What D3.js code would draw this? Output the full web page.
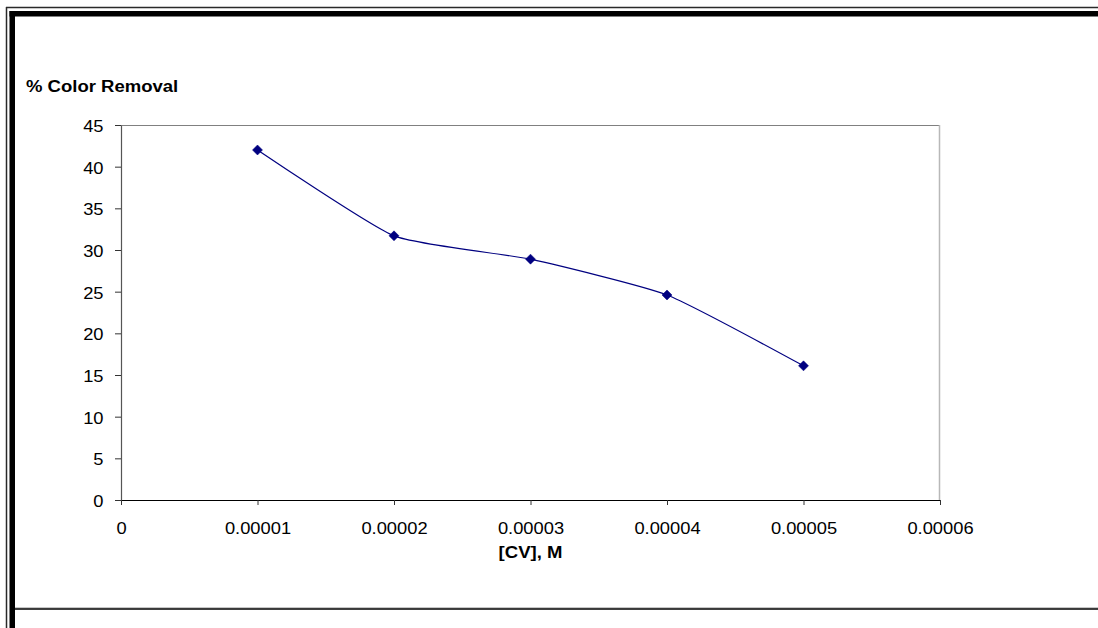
<!DOCTYPE html>
<html>
<head>
<meta charset="utf-8">
<script src="https://cdn.jsdelivr.net/npm/d3@7"></script>
<style>
  html, body { margin: 0; padding: 0; background: #fff; }
  svg { display: block; }
  text { font-family: "Liberation Sans", Arial, sans-serif; fill: #000; }
</style>
</head>
<body>
<svg id="chart" width="1098" height="628"></svg>
<script>
// Crystal violet concentration (M) vs. percentage of colour removed
const concentrations = [0.00001, 0.00002, 0.00003, 0.00004, 0.00005];
const colorRemoval = [42.0, 31.7, 28.9, 24.6, 16.1];

const xTickValues = [0, 0.00001, 0.00002, 0.00003, 0.00004, 0.00005, 0.00006];
const xTickLabels = ["0", "0.00001", "0.00002", "0.00003", "0.00004", "0.00005", "0.00006"];
const yTickValues = [0, 5, 10, 15, 20, 25, 30, 35, 40, 45];

const yAxisTitle = "% Color Removal";
const xAxisTitle = "[CV], M";

const W = 1098, H = 628;
const plot = { left: 121, right: 940, top: 125, bottom: 500 };
const titleStretch = 1.09;
const tickStretch = 1.11;

const svg = d3.select("#chart");

// white background
svg.append("rect").attr("width", W).attr("height", H).attr("fill", "#fff");

// framed chart area (double edge with heavy shadow on top/left)
const frame = svg.append("g");
frame.append("line").attr("x1", 6).attr("x2", W).attr("y1", 7.5).attr("y2", 7.5)
  .attr("stroke", "#2a2a2a").attr("stroke-width", 1.5);
frame.append("line").attr("x1", 6.5).attr("x2", 6.5).attr("y1", 7).attr("y2", H)
  .attr("stroke", "#2a2a2a").attr("stroke-width", 1.5);
frame.append("rect").attr("x", 9.5).attr("y", 11).attr("width", W - 9.5).attr("height", 5.5)
  .attr("fill", "#000");
frame.append("rect").attr("x", 9.5).attr("y", 11).attr("width", 5.5).attr("height", H - 11)
  .attr("fill", "#000");
frame.append("line").attr("x1", 15).attr("x2", W).attr("y1", 607.8).attr("y2", 607.8)
  .attr("stroke", "#b0b0b0").attr("stroke-width", 1);
frame.append("line").attr("x1", 15).attr("x2", W).attr("y1", 609).attr("y2", 609)
  .attr("stroke", "#000").attr("stroke-width", 1.4);

const x = d3.scaleLinear().domain([0, 0.00006]).range([plot.left, plot.right]);
const y = d3.scaleLinear().domain([0, 45]).range([plot.bottom, plot.top]);

// plot area border (top and right)
svg.append("line").attr("x1", plot.left).attr("x2", plot.right)
  .attr("y1", plot.top + 0.5).attr("y2", plot.top + 0.5)
  .attr("stroke", "#808080").attr("stroke-width", 1);
svg.append("line").attr("x1", plot.right - 0.5).attr("x2", plot.right - 0.5)
  .attr("y1", plot.top).attr("y2", plot.bottom)
  .attr("stroke", "#b8b8b8").attr("stroke-width", 1.5);

// y axis
const yAxis = svg.append("g")
  .attr("transform", `translate(${plot.left},0)`)
  .call(d3.axisLeft(y).tickValues(yTickValues).tickSize(6).tickSizeOuter(0).tickFormat(d3.format("d")));
yAxis.select(".domain").attr("stroke", "#555").attr("stroke-width", 1.2);
yAxis.selectAll(".tick line").attr("stroke", "#333");
yAxis.selectAll(".tick text")
  .attr("font-size", 16.5)
  .attr("font-family", "'Liberation Sans', Arial, sans-serif")
  .attr("x", -17.5 / tickStretch)
  .attr("dy", "0.39em")
  .attr("transform", `scale(${tickStretch},1)`);

// x axis
const xAxis = svg.append("g")
  .attr("transform", `translate(0,${plot.bottom})`)
  .call(d3.axisBottom(x).tickValues(xTickValues).tickSize(5).tickSizeOuter(0)
    .tickFormat((d, i) => xTickLabels[i]));
xAxis.select(".domain").attr("stroke", "#000").attr("stroke-width", 1.2);
xAxis.selectAll(".tick line").attr("stroke", "#333");
xAxis.selectAll(".tick text")
  .attr("font-size", 16.5)
  .attr("font-family", "'Liberation Sans', Arial, sans-serif")
  .attr("y", 34.5)
  .attr("dy", "0")
  .attr("transform", `scale(${tickStretch},1)`);

// axis titles
svg.append("text")
  .attr("transform", `translate(26,92) scale(${titleStretch},1)`)
  .attr("font-size", 17).attr("font-weight", "bold")
  .text(yAxisTitle);
svg.append("text")
  .attr("transform", `translate(${(plot.left + plot.right) / 2},558) scale(${titleStretch},1)`)
  .attr("text-anchor", "middle")
  .attr("font-size", 17).attr("font-weight", "bold")
  .text(xAxisTitle);

// smoothed series line
const points = concentrations.map((c, i) => [c, colorRemoval[i]]);
const line = d3.line()
  .x(d => x(d[0]))
  .y(d => y(d[1]))
  .curve(d3.curveCardinal.tension(0.5));
svg.append("path")
  .datum(points)
  .attr("d", line)
  .attr("fill", "none")
  .attr("stroke", "#000080")
  .attr("stroke-width", 1.2);

// diamond markers
svg.append("g").selectAll("path")
  .data(points)
  .join("path")
  .attr("d", d3.symbol().type(d3.symbolSquare).size(50))
  .attr("transform", d => `translate(${x(d[0])},${y(d[1])}) rotate(45)`)
  .attr("fill", "#000080")
  .attr("stroke", "#000080")
  .attr("stroke-width", 0.5);
</script>
</body>
</html>
